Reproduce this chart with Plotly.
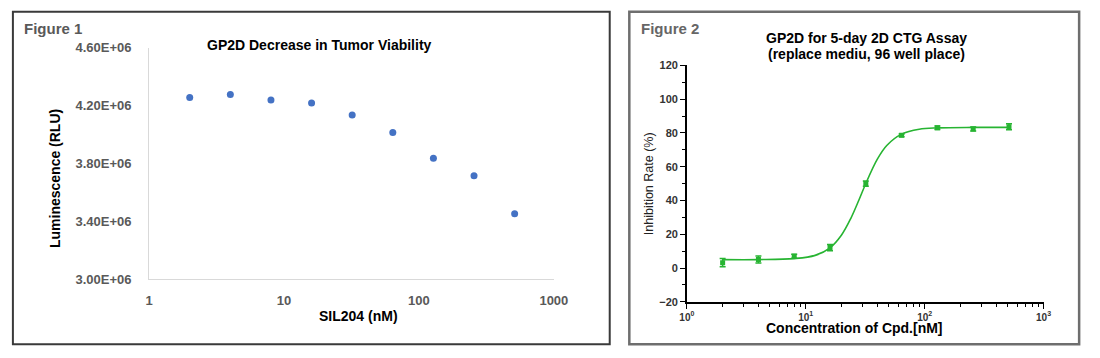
import plotly.graph_objects as go

# ---------------- data ----------------
conc1 = [2, 4, 8, 16, 32, 64, 128, 256, 512]
luminescence = [4.258e6, 4.278e6, 4.240e6, 4.219e6, 4.136e6, 4.015e6, 3.838e6, 3.717e6, 3.454e6]
lum_ticks = [3.0e6, 3.4e6, 3.8e6, 4.2e6, 4.6e6]
lum_ticktext = ["3.00E+06", "3.40E+06", "3.80E+06", "4.20E+06", "4.60E+06"]
x1_ticks = [1, 10, 100, 1000]
x1_ticktext = ["1", "10", "100", "1000"]

conc2 = [2, 4, 8, 16, 32, 64, 128, 256, 512]
inhibition = [3.2, 5.1, 7.0, 12.1, 50.0, 78.6, 83.1, 82.4, 83.7]
inhibition_err = [2.4, 2.1, 1.2, 1.8, 1.5, 0.8, 1.0, 1.2, 1.8]
curve_conc = [2, 4, 8, 12, 16, 20, 24, 28, 32, 40, 48, 64, 90, 128, 256, 512]
curve_inhib = [5.0, 5.0, 5.6, 7.5, 12.0, 19.6, 29.6, 40.3, 50.1, 64.5, 72.6, 79.3, 82.2, 83.0, 83.3, 83.3]
x2_ticks = [1, 10, 100, 1000]
x2_ticktext = ["10<sup>0</sup>", "10<sup>1</sup>", "10<sup>2</sup>", "10<sup>3</sup>"]
x2_minor = [m * d for d in (1, 10, 100) for m in range(2, 10)]
y2_ticks = [-20, 0, 20, 40, 60, 80, 100, 120]

W, H = 1100, 358
def px(x):
    return x / W
def py(y):
    return 1 - y / H

FONT = "Liberation Sans, Arial, sans-serif"
BLUE = "#4472C4"
GREEN = "#27B432"

fig = go.Figure()

# Figure 1 scatter
fig.add_trace(go.Scatter(
    x=conc1, y=luminescence, mode="markers",
    marker=dict(color=BLUE, size=7),
    xaxis="x", yaxis="y", showlegend=False))

# Figure 2 fitted curve + points
fig.add_trace(go.Scatter(
    x=curve_conc, y=curve_inhib, mode="lines",
    line=dict(color=GREEN, width=1.6, shape="spline"),
    xaxis="x2", yaxis="y2", showlegend=False))
fig.add_trace(go.Scatter(
    x=conc2, y=inhibition, mode="markers",
    marker=dict(color=GREEN, size=5, symbol="square"),
    error_y=dict(type="data", array=inhibition_err, color=GREEN, thickness=1.5, width=3),
    xaxis="x2", yaxis="y2", showlegend=False))

fig.update_layout(
    width=W, height=H, autosize=False,
    margin=dict(l=0, r=0, t=0, b=0),
    paper_bgcolor="white", plot_bgcolor="white",
    font=dict(family=FONT),
    xaxis=dict(
        type="log", range=[0, 3], domain=[px(144), px(557)],
        tickmode="array", tickvals=x1_ticks, ticktext=x1_ticktext,
        showgrid=False, zeroline=False, showline=True, linecolor="#d9d9d9", linewidth=1,
        ticks="", ticklabelstandoff=9,
        tickfont=dict(family=FONT, size=13, color="#595959", weight="bold"),
        anchor="y"),
    yaxis=dict(
        range=[3.0e6, 4.6e6], domain=[py(284.3), py(42.7)],
        tickmode="array", tickvals=lum_ticks, ticktext=lum_ticktext,
        showgrid=False, zeroline=False, showline=True, linecolor="#d9d9d9", linewidth=1,
        ticks="", ticklabelstandoff=14,
        tickfont=dict(family=FONT, size=13, color="#595959", weight="bold"),
        anchor="x"),
    xaxis2=dict(
        type="log", range=[0, 3], domain=[px(692.7), px(1056.7)],
        tickmode="array", tickvals=x2_ticks, ticktext=x2_ticktext,
        showgrid=False, zeroline=False, showline=True, linecolor="black", linewidth=1.5,
        ticks="outside", ticklen=5, tickwidth=1.3, tickcolor="black",
        minor=dict(tickmode="array", tickvals=x2_minor, ticks="outside", ticklen=3,
                   tickwidth=1.1, tickcolor="black", showgrid=False),
        tickfont=dict(family=FONT, size=10, color="#333333", weight="bold"),
        anchor="y2"),
    yaxis2=dict(
        range=[-20, 120], domain=[py(307.7), py(61)],
        tickmode="array", tickvals=y2_ticks,
        showgrid=False, zeroline=False, showline=True, linecolor="black", linewidth=1.5,
        ticks="outside", ticklen=5, tickwidth=1.3, tickcolor="black",
        minor=dict(dtick=10, ticks="outside", ticklen=3, tickwidth=1.1,
                   tickcolor="black", showgrid=False),
        tickfont=dict(family=FONT, size=11, color="#333333", weight="bold"),
        anchor="x2"),
)

# panel borders
fig.add_shape(type="rect", xref="paper", yref="paper",
              x0=px(5), x1=px(614), y0=py(352), y1=py(5),
              line=dict(color="#3a3a3a", width=2), layer="above")
fig.add_shape(type="rect", xref="paper", yref="paper",
              x0=px(634), x1=px(1093), y0=py(352), y1=py(5),
              line=dict(color="#6e6e6e", width=2.5), layer="above")

def ann(text, x, y, size, color="black", bold=True, angle=0, xanchor="center"):
    fig.add_annotation(text=text, xref="paper", yref="paper", x=px(x), y=py(y),
                       xanchor=xanchor, yanchor="middle", showarrow=False, textangle=angle,
                       font=dict(family=FONT, size=size, color=color,
                                 weight="bold" if bold else "normal"))

# Figure 1 texts
ann("Figure 1", 14, 22.7, 15, color="#595959", xanchor="left")
ann("GP2D Decrease in Tumor Viability", 318, 39.5, 14)
ann("Luminescence (RLU)", 47.5, 179, 14, angle=-90)
ann("SIL204 (nM)", 358, 322.7, 14)

# Figure 2 texts
ann("Figure 2", 644, 22.7, 15, color="#666666", xanchor="left")
ann("GP2D for 5-day 2D CTG Assay", 876, 32.3, 14)
ann("(replace mediu, 96 well place)", 876, 49.3, 14)
ann("Inhibition Rate (%)", 654, 184, 12.5, color="#222222", bold=False, angle=-90)
ann("Concentration of Cpd.[nM]", 864, 335, 14)

post = (
    "document.documentElement.style.margin='0';"
    "document.body.style.margin='0';"
    "document.body.style.padding='0';"
    "document.body.style.overflow='hidden';"
)

fig.write_html("out.html", config={"displayModeBar": False}, post_script=post)
